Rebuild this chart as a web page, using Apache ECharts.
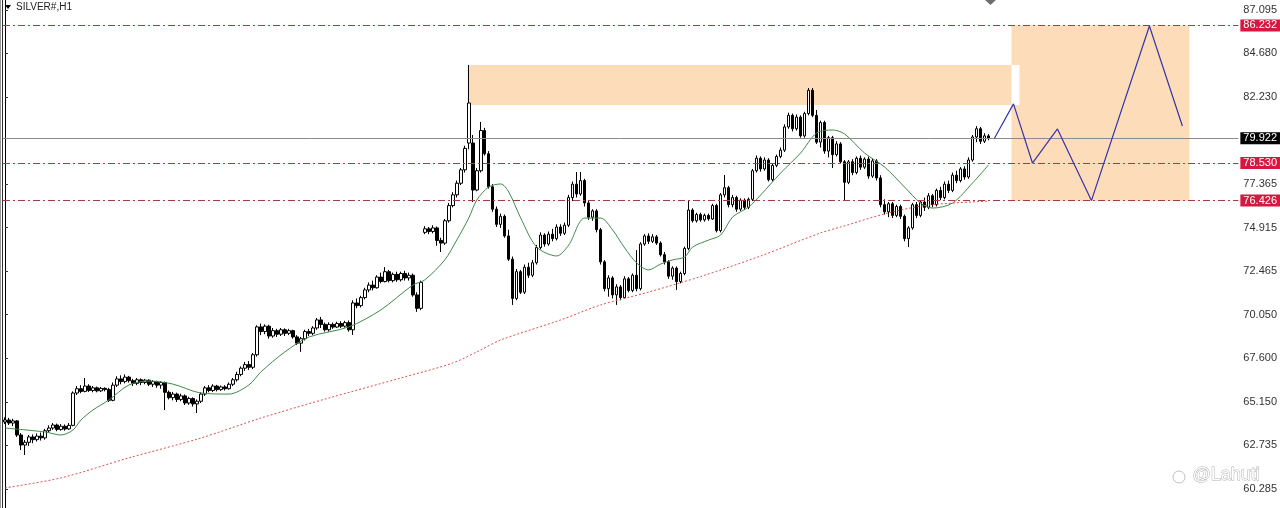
<!DOCTYPE html>
<html><head><meta charset="utf-8">
<script src="https://cdn.jsdelivr.net/npm/echarts@6/dist/echarts.min.js"></script>
<style>html,body{margin:0;padding:0;background:#fff;}#c{width:1280px;height:508px;}</style>
</head><body><div id="c"></div>
<script>
// [open, close, low, high] per H1 bar
const candles = [
[64.04,64.15,63.93,64.30],[64.15,63.98,63.87,64.27],[63.98,64.10,63.81,64.22],[64.10,63.31,63.20,64.15],[63.31,62.75,62.47,63.42],
[62.75,62.90,62.19,63.03],[62.90,63.20,62.70,63.31],[63.20,63.05,62.85,63.34],[63.05,63.25,62.95,63.40],[63.25,63.15,63.00,63.45],
[63.15,63.55,63.05,63.65],[63.55,63.70,63.45,63.85],[63.70,63.87,63.60,63.98],[63.87,63.62,63.52,63.95],[63.62,63.80,63.55,63.92],
[63.80,63.65,63.55,63.90],[63.65,63.85,63.60,63.98],[63.85,65.66,63.80,65.75],[65.66,65.90,65.55,66.05],[65.90,65.75,65.65,66.10],
[65.75,66.05,65.70,66.50],[66.05,65.80,65.72,66.15],[65.80,65.95,65.70,66.05],[65.95,65.78,65.70,66.02],[65.78,65.92,65.72,66.00],
[65.92,65.85,65.75,65.98],[65.85,65.25,65.16,65.95],[65.25,66.10,65.20,66.25],[66.10,66.45,66.00,66.60],[66.45,66.30,66.15,66.65],
[66.30,66.55,66.20,66.70],[66.55,66.35,66.25,66.62],[66.35,66.20,66.05,66.45],[66.20,66.40,66.10,66.50],[66.40,66.25,66.10,66.48],
[66.25,66.38,66.15,66.45],[66.38,66.15,66.05,66.42],[66.15,66.30,66.00,66.38],[66.30,66.10,65.95,66.35],[66.10,66.25,65.90,66.32],
[66.25,65.70,64.71,66.30],[65.70,65.40,65.30,65.80],[65.40,65.60,65.25,65.72],[65.60,65.30,65.16,65.68],[65.30,65.50,65.20,65.62],
[65.50,65.10,64.99,65.58],[65.10,65.35,65.00,65.45],[65.35,65.05,64.90,65.42],[65.05,65.20,64.54,65.30],[65.20,65.60,65.10,65.70],
[65.60,65.95,65.50,66.05],[65.95,65.80,65.70,66.10],[65.80,66.05,65.72,66.15],[66.05,65.85,65.75,66.12],[65.85,66.00,65.78,66.08],
[66.00,65.90,65.80,66.10],[65.90,66.15,65.85,66.25],[66.15,66.40,66.05,66.50],[66.40,66.70,66.30,66.85],[66.70,67.05,66.60,67.15],
[67.05,67.25,66.90,67.40],[67.25,67.10,66.95,67.45],[67.10,67.80,67.00,67.90],[67.80,69.36,67.70,69.45],[69.36,69.10,68.90,69.55],
[69.10,69.40,68.95,69.50],[69.40,68.85,68.70,69.48],[68.85,69.15,68.75,69.30],[69.15,68.95,68.80,69.25],[68.95,69.20,68.85,69.30],
[69.20,69.00,68.85,69.28],[69.00,69.15,68.90,69.25],[69.15,68.80,68.70,69.20],[68.80,68.45,68.35,68.90],[68.45,68.70,67.96,68.80],
[68.70,69.10,68.60,69.20],[69.10,69.00,68.85,69.25],[69.00,69.30,68.90,69.40],[69.30,69.75,69.20,69.86],[69.75,69.50,69.30,69.92],
[69.50,69.20,69.10,69.60],[69.20,69.50,69.10,69.62],[69.50,69.35,69.25,69.60],[69.35,69.55,69.30,69.65],[69.55,69.40,69.30,69.68],
[69.40,69.60,69.32,69.70],[69.60,69.20,69.10,69.72],[69.20,70.70,68.91,70.85],[70.70,70.55,70.40,70.95],[70.55,71.00,70.45,71.10],
[71.00,71.43,70.90,71.55],[71.43,71.70,71.30,71.85],[71.70,71.55,71.40,71.95],[71.55,72.15,71.50,72.25],[72.15,71.90,71.80,72.40],
[71.90,72.45,71.85,72.71],[72.45,71.95,71.85,72.55],[71.95,72.30,71.85,72.40],[72.30,72.00,71.88,72.45],[72.00,72.35,71.90,72.45],
[72.35,72.10,71.95,72.50],[72.10,72.25,71.95,72.40],[72.25,71.15,71.05,72.35],[71.15,70.40,70.20,71.30],[70.40,71.85,70.30,71.95],
[74.65,74.85,74.55,75.00],[74.85,74.70,74.55,74.95],[74.70,74.90,74.60,75.05],[74.90,74.20,73.90,74.98],[74.20,74.05,73.55,74.35],
[74.05,75.30,73.95,75.40],[75.30,76.15,75.20,76.30],[76.15,76.75,76.05,76.90],[76.75,77.40,76.60,77.55],[77.40,78.15,77.30,78.25],
[78.15,79.35,78.00,79.50],[79.65,81.89,79.30,84.02],[79.65,77.02,76.35,80.10],[77.02,78.10,76.95,78.25],[78.10,80.35,78.00,80.83],
[80.35,79.05,78.95,80.50],[79.05,77.20,77.10,79.20],[77.20,75.95,75.80,77.35],[75.95,75.10,74.95,76.10],[75.10,75.55,74.90,75.70],
[75.55,74.45,74.35,75.65],[74.45,73.15,73.05,74.80],[73.15,70.95,70.59,73.30],[70.95,72.45,70.85,72.60],[72.45,71.30,71.20,72.55],
[71.30,72.70,71.20,72.85],[72.70,72.25,72.10,72.95],[72.25,72.95,72.15,73.10],[72.95,73.80,72.85,73.95],[73.80,74.50,73.70,74.65],
[74.50,74.00,73.85,74.60],[74.00,74.55,73.90,74.70],[74.55,74.30,74.15,74.85],[74.30,74.95,74.20,75.10],[74.95,74.60,74.45,75.10],
[74.60,75.05,74.50,75.20],[75.05,76.60,74.95,76.75],[76.60,77.35,76.40,77.50],[77.35,76.80,76.60,78.03],[76.80,77.55,76.70,78.03],
[77.55,76.30,76.10,77.65],[76.30,75.50,75.35,76.45],[75.50,75.85,75.30,75.95],[75.85,74.80,74.65,75.95],[74.80,73.00,72.85,74.90],
[73.00,71.50,71.35,73.10],[71.50,72.10,71.05,72.25],[72.10,71.15,70.95,72.20],[71.15,71.60,70.59,71.75],[71.60,71.00,70.85,71.70],
[71.00,72.05,70.95,72.20],[72.05,71.40,71.30,72.15],[71.40,72.25,71.30,72.35],[72.25,71.50,71.35,73.66],[71.50,74.00,71.40,74.10],
[74.00,74.45,73.90,74.55],[74.45,74.15,74.00,74.60],[74.15,74.40,74.05,74.55],[74.40,74.05,73.95,74.50],[74.05,73.40,73.30,74.15],
[73.40,73.00,72.85,73.55],[73.00,72.20,72.05,73.10],[72.20,72.65,72.00,72.75],[72.65,71.90,71.43,72.75],[71.90,72.35,71.80,72.45],
[72.35,73.75,72.25,73.85],[73.75,75.90,73.65,76.46],[75.90,75.30,75.20,76.00],[75.30,75.65,75.20,75.75],[75.65,75.35,75.25,75.75],
[75.35,75.60,75.25,75.70],[75.60,75.40,75.30,75.70],[75.40,76.15,75.35,76.25],[76.15,74.75,74.65,76.25],[74.75,76.75,74.65,76.85],
[76.75,77.15,76.60,77.86],[77.15,76.20,76.05,77.25],[76.20,76.60,76.05,76.75],[76.60,75.95,75.80,76.70],[75.95,76.45,75.85,76.55],
[76.45,76.05,75.90,76.55],[76.05,76.50,75.95,76.60],[76.50,78.10,76.40,78.20],[78.10,78.80,78.00,78.95],[78.80,78.20,78.05,78.90],
[78.20,78.70,78.10,78.85],[78.70,77.60,77.50,78.80],[77.60,78.40,77.50,78.50],[78.40,78.90,78.30,79.00],[78.90,79.25,78.80,79.40],
[79.25,80.55,79.15,80.70],[80.55,81.20,80.45,81.35],[81.20,80.45,80.30,81.30],[80.45,81.10,80.35,81.25],[81.10,80.05,79.95,81.20],
[80.05,81.30,79.95,81.40],[81.30,82.60,81.20,82.73],[82.60,81.20,81.10,82.73],[81.20,79.70,79.60,81.50],[79.70,80.80,79.40,80.90],
[80.80,79.20,79.05,80.90],[79.20,79.95,78.85,80.05],[79.95,79.00,78.25,80.05],[79.00,79.60,78.90,79.75],[79.60,78.60,78.50,79.70],
[78.60,77.45,76.46,78.70],[77.45,78.60,77.35,78.70],[78.60,78.00,77.85,78.75],[78.00,78.80,77.90,78.90],[78.80,78.30,78.15,78.95],
[78.30,78.75,78.20,78.85],[78.75,77.80,77.65,78.90],[77.80,78.65,77.70,78.80],[78.65,77.70,77.55,78.75],[77.70,76.20,76.05,77.85],
[76.20,75.80,75.65,76.50],[75.80,76.25,75.50,76.35],[76.25,75.60,75.45,76.35],[75.60,76.10,75.50,76.20],[76.10,75.55,75.40,76.20],
[75.55,74.30,74.15,75.65],[74.30,74.90,73.83,75.00],[74.90,76.20,74.80,76.30],[76.20,75.60,75.45,76.35],[75.60,76.35,75.50,76.45],
[76.35,76.05,75.85,76.60],[76.05,76.70,75.95,76.85],[76.70,76.20,76.05,76.80],[76.20,77.00,76.10,77.10],[77.00,76.60,76.45,77.20],
[76.60,77.35,76.50,77.50],[77.35,77.00,76.85,77.55],[77.00,77.85,76.90,78.00],[77.85,77.55,77.40,78.10],[77.55,78.20,77.45,78.30],
[78.20,77.75,77.60,78.35],[77.75,78.70,77.65,78.85],[78.70,79.99,78.60,80.10],[79.99,80.45,79.70,80.60],[80.45,79.75,79.60,80.55],
[79.75,80.05,79.65,80.20],[80.05,79.92,79.80,80.15]
];
const barSlots = 309; // visible bar slots across the chart width
const categories = Array.from({length: barSlots}, (_, i) => 'bar ' + (i + 1));

// moving averages: [bar index, price]
const fastMA = [[0,63.70],[10,63.48],[14,63.31],[17,63.59],[19,64.15],[22,64.71],[26,65.27],[31,66.11],[36,66.33],[42,66.16],
[49,65.66],[56,65.60],[61,66.11],[64,66.84],[70,67.96],[76,68.79],[86,69.36],[94,70.31],[102,71.70],[105,71.99],[110,73.11],
[113,74.22],[116,75.45],[118,76.46],[121,77.19],[124,77.36],[126,76.91],[129,75.45],[133,73.83],[138,73.33],[141,73.94],
[145,75.45],[149,75.45],[152,74.78],[155,73.78],[158,72.94],[161,72.55],[164,72.88],[167,73.11],[170,73.27],[172,73.83],
[176,74.22],[179,74.50],[182,75.51],[186,76.07],[189,76.74],[194,77.97],[199,79.09],[203,80.21],[207,80.38],[210,80.16],
[215,79.09],[220,78.31],[225,77.19],[229,76.29],[232,76.01],[237,76.29],[242,77.41],[246,78.42]];
const slowMA = [[0,60.35],[14,60.91],[31,62.03],[49,63.14],[64,64.26],[81,65.38],[99,66.50],[112,67.34],[119,68.07],[124,68.63],
[139,69.75],[149,70.59],[161,71.31],[174,72.18],[189,73.33],[204,74.62],[209,74.95],[221,75.74],[231,76.18],[246,76.40]];

// projected path drawn on the chart: [bar position, price]
const zigzag = [[247.5,79.92],[252.25,81.84],[257,78.53],[263.25,80.44],[271.75,76.43],[286.25,86.20],[294.5,80.60]];

// zones: [[x1, y1], [x2, y2]] in bar position / price
const supplyZone = [[115.75,84.02],[253.75,81.78]];
const targetZone = [[251.75,86.232],[296.25,76.426]];
const overlapZone = [[251.75,84.02],[253.75,81.78]];

const levelLines = [86.232, 78.530, 76.426];
const currentPrice = 79.922;
const priceTicks = [87.095,84.680,82.230,77.365,74.915,72.465,70.050,67.600,65.150,62.735,60.285];

const chart = echarts.init(document.getElementById('c'), null, {renderer:'canvas'});
const zoneItem = (z, color) => [{coord: z[0], itemStyle:{color: color, opacity:1}}, {coord: z[1]}];
const boxLabel = (v, bg) => ({show:true, position:'end', distance:2, color:'#fff', backgroundColor:bg,
  padding:[1,3,0,3], fontFamily:'Liberation Sans', fontSize:11, formatter: () => v.toFixed(3)});

chart.setOption({
  animation:false,
  backgroundColor:'#ffffff',
  grid:{left:3, right:41, top:0, bottom:0, containLabel:false},
  xAxis:[
    {type:'category', data:categories, show:false, boundaryGap:true},
    {type:'value', min:-0.5, max:barSlots-0.5, show:false}
  ],
  yAxis:{
    type:'value', position:'right', min:59.225, max:87.655, scale:true,
    splitLine:{show:false},
    axisLine:{show:true, lineStyle:{color:'#000', width:1}},
    axisTick:{show:true, inside:false, length:3, lineStyle:{color:'#333'}, customValues:priceTicks},
    axisLabel:{show:true, customValues:priceTicks, margin:5, color:'#333', fontFamily:'Liberation Sans', fontSize:11,
      formatter: v => v.toFixed(3)}
  },
  series:[
    {
      name:'zones', type:'line', xAxisIndex:1, data:[], z:1, silent:true,
      markArea:{silent:true, data:[
        zoneItem(supplyZone,'#fddcb9'),
        zoneItem(targetZone,'#fddcb9'),
        zoneItem(overlapZone,'#ffffff')
      ]}
    },
    {
      name:'SILVER#', type:'candlestick', xAxisIndex:0, data:candles, barWidth:3, z:3,
      itemStyle:{color:'#ffffff', color0:'#000000', borderColor:'#000000', borderColor0:'#000000', borderWidth:1},
      markLine:{
        silent:true, symbol:'none',
        data:[
          ...levelLines.map(v => ({yAxis:v, lineStyle:{color:'#a83a44', width:1, type:[7,3,2,3]}, label:boxLabel(v,'#d6173f')})),
          {yAxis:currentPrice, lineStyle:{color:'#8a8a8a', width:1, type:'solid'}, label:boxLabel(currentPrice,'#000000')}
        ]
      }
    },
    {
      name:'MA fast', type:'line', xAxisIndex:1, data:fastMA, smooth:0.3, symbol:'none', z:4,
      lineStyle:{color:'#3f8a4a', width:1}
    },
    {
      name:'MA slow', type:'line', xAxisIndex:1, data:slowMA, smooth:0.3, symbol:'none', z:4,
      lineStyle:{color:'#d9534f', width:1, type:[2,2]}
    },
    {
      name:'projection', type:'line', xAxisIndex:1, data:zigzag, symbol:'none', z:5,
      lineStyle:{color:'#3535a8', width:1.2}
    }
  ],
  graphic:[
    {type:'line', shape:{x1:0.5,y1:0,x2:0.5,y2:508}, style:{stroke:'#9a9a9a', lineWidth:1}, z:10},
    {type:'line', shape:{x1:2.5,y1:0,x2:2.5,y2:508}, style:{stroke:'#333', lineWidth:1}, z:10},
    {type:'polygon', shape:{points:[[5,5],[11,5],[8,9]]}, style:{fill:'#000'}, z:10},
    {type:'text', left:16, top:2, style:{text:'SILVER#,H1', fill:'#222', font:'10px "Liberation Sans"'}, z:10},
    {type:'polygon', shape:{points:[[984,-1],[997,-1],[990.5,5]]}, style:{fill:'#6e6e6e'}, z:10},
    {type:'circle', shape:{cx:1179, cy:477, r:6}, style:{fill:'none', stroke:'#c0c0c0', lineWidth:1}, z:10},
    {type:'text', left:1192, top:466, style:{text:'@Lahuti', fill:'#ffffff', stroke:'#b0b0b0', lineWidth:1, font:'18px "Liberation Sans"'}, z:10}
  ]
});
</script></body></html>
